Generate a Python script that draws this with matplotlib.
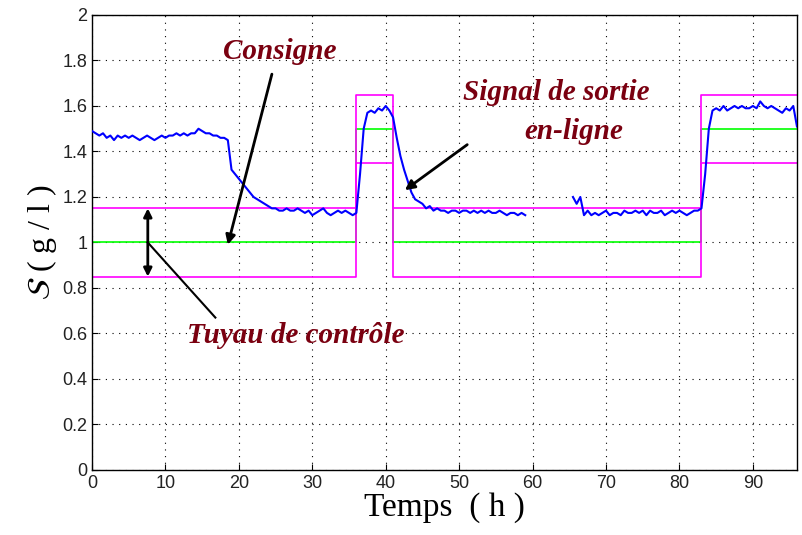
import numpy as np
import matplotlib
matplotlib.use("Agg")
import matplotlib.pyplot as plt

# ---- data ----
# Setpoint schedule (h, g/l)
sp_edges = [0, 36, 41, 83, 96]
sp_values = [1.0, 1.5, 1.0, 1.5]
band_half = 0.15

# Online output signal, segment 1 (0 - 59 h)
t1 = [i * 0.5 for i in range(0, 119)]
s1 = [1.49, 1.48, 1.47, 1.48, 1.46, 1.47, 1.45, 1.47, 1.46, 1.47,
      1.46, 1.47, 1.46, 1.45, 1.46, 1.47, 1.46, 1.45, 1.46, 1.47,
      1.46, 1.47, 1.47, 1.48, 1.47, 1.48, 1.47, 1.48, 1.48, 1.50,
      1.49, 1.48, 1.48, 1.47, 1.47, 1.46, 1.46, 1.45,
      1.32, 1.30, 1.28, 1.26, 1.24, 1.22, 1.20, 1.19, 1.18, 1.17,
      1.16, 1.15, 1.15, 1.14, 1.14, 1.15, 1.14, 1.14, 1.15, 1.14,
      1.13, 1.14, 1.12, 1.13, 1.14, 1.15, 1.13, 1.12, 1.13, 1.14,
      1.13, 1.14, 1.13, 1.12, 1.13,
      1.30, 1.50, 1.57, 1.58, 1.57, 1.59, 1.58, 1.60, 1.58, 1.55,
      1.46, 1.38, 1.32, 1.27, 1.22, 1.19, 1.18, 1.17, 1.15, 1.16,
      1.14, 1.15, 1.14, 1.14, 1.13, 1.14, 1.14, 1.13, 1.14, 1.14,
      1.13, 1.14, 1.13, 1.14, 1.13, 1.14, 1.13, 1.13, 1.14, 1.13,
      1.12, 1.13, 1.13, 1.12, 1.13, 1.12]
# segment 2 (65.5 - 96 h)
t2 = [65.5 + i * 0.5 for i in range(0, 62)]
s2 = [1.20, 1.17, 1.20, 1.12, 1.14, 1.12, 1.13, 1.12, 1.13, 1.14,
      1.12, 1.13, 1.13, 1.12, 1.14, 1.13, 1.13, 1.14, 1.13, 1.14,
      1.12, 1.14, 1.13, 1.13, 1.14, 1.12, 1.13, 1.14, 1.13, 1.14,
      1.13, 1.12, 1.13, 1.14, 1.14, 1.15, 1.30, 1.50, 1.58, 1.59,
      1.58, 1.60, 1.58, 1.59, 1.60, 1.59, 1.60, 1.59, 1.59, 1.60,
      1.59, 1.62, 1.60, 1.59, 1.60, 1.59, 1.58, 1.57, 1.59, 1.58,
      1.60, 1.51]

x_ticks = [0, 10, 20, 30, 40, 50, 60, 70, 80, 90]
y_ticks = [0, 0.2, 0.4, 0.6, 0.8, 1.0, 1.2, 1.4, 1.6, 1.8, 2.0]
y_tick_labels = ["0", "0.2", "0.4", "0.6", "0.8", "1", "1.2", "1.4", "1.6", "1.8", "2"]

# ---- plot ----
fig = plt.figure(figsize=(8.02, 5.35), dpi=100)
ax = fig.add_axes([0.1147, 0.1215, 0.879, 0.8505])

n = min(len(t1), len(s1))
ax.plot(t1[:n], s1[:n], color="#0000ff", lw=1.5, zorder=3)
n2 = min(len(t2), len(s2))
ax.plot(t2[:n2], s2[:n2], color="#0000ff", lw=1.5, zorder=3)

# setpoint (step) and control band
sp_x = []
sp_y = []
hi_y = []
lo_y = []
for k, v in enumerate(sp_values):
    sp_x += [sp_edges[k], sp_edges[k + 1]]
    sp_y += [v, v]
    hi_y += [v + band_half, v + band_half]
    lo_y += [v - band_half, v - band_half]
ax.plot(sp_x, sp_y, color="#00ff00", lw=1.2, zorder=2)
ax.plot(sp_x, hi_y, color="#ff00ff", lw=1.2, zorder=2)
ax.plot(sp_x, lo_y, color="#ff00ff", lw=1.2, zorder=2)

ax.set_xlim(0, 96)
ax.set_ylim(0, 2)
ax.set_xticks(x_ticks)
ax.set_yticks(y_ticks)
ax.set_yticklabels(y_tick_labels)
ax.tick_params(direction="in", length=4, labelsize=13, colors="black",
               labelcolor="#222222")
for lab in ax.get_xticklabels() + ax.get_yticklabels():
    lab.set_fontfamily("Liberation Sans")
ax.grid(True, color="black", linestyle=(0, (1, 5)), lw=0.8)
for sp in ax.spines.values():
    sp.set_linewidth(1.0)

ax.set_xlabel("Temps  ( h )", family="Liberation Serif", fontsize=24, labelpad=0)
ax.set_ylabel("$\\mathcal{S}$ ( g / l )", family="Liberation Serif", fontsize=23, labelpad=2)

red = "#7a0010"
tfont = dict(family="Liberation Serif", fontsize=21, fontweight="bold",
             fontstyle="italic", color=red)
ax.text(25.6, 1.84, "Consigne", ha="center", va="center", **tfont)
ax.text(63.2, 1.66, "Signal de sortie", ha="center", va="center", **tfont)
ax.text(65.6, 1.49, "en-ligne", ha="center", va="center", **tfont)
ax.text(27.8, 0.59, "Tuyau de contrôle", ha="center", va="center", **tfont)

ax.annotate("", xy=(18.5, 0.99), xytext=(24.5, 1.74),
            arrowprops=dict(arrowstyle="-|>", color="black", lw=2,
                            mutation_scale=14, shrinkA=0, shrinkB=0))
ax.annotate("", xy=(42.6, 1.23), xytext=(51.1, 1.43),
            arrowprops=dict(arrowstyle="-|>", color="black", lw=2,
                            mutation_scale=14, shrinkA=0, shrinkB=0))
ax.annotate("", xy=(7.6, 0.85), xytext=(7.6, 1.15),
            arrowprops=dict(arrowstyle="<|-|>", color="black", lw=2,
                            mutation_scale=12, shrinkA=0, shrinkB=0))
ax.plot([7.6, 16.8], [1.0, 0.67], color="black", lw=1.5)

fig.savefig("out.png", dpi=100)
